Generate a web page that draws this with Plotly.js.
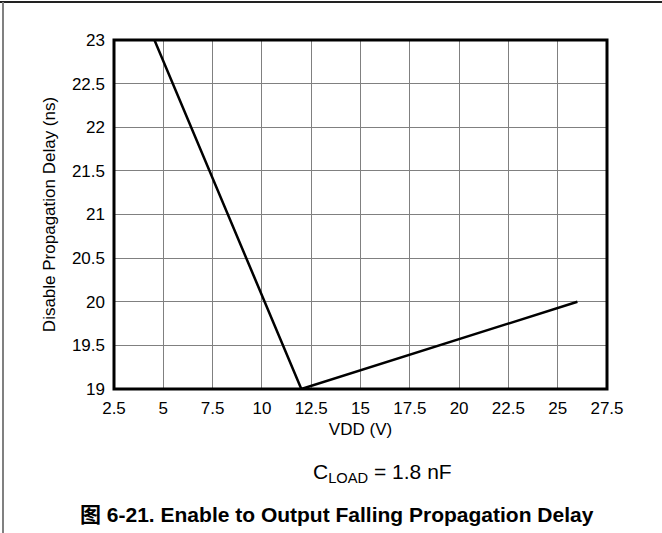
<!DOCTYPE html>
<html>
<head>
<meta charset="utf-8">
<script src="https://cdn.plot.ly/plotly-3.0.1.min.js"></script>
<style>html,body{margin:0;padding:0;background:#fff;}#chart{width:662px;height:533px;}</style>
</head>
<body>
<div id="chart"></div>
<script>
var vdd = [4.55, 12, 26];
var delayNs = [23, 19, 20];
var xTickVals = [2.5, 5, 7.5, 10, 12.5, 15, 17.5, 20, 22.5, 25, 27.5];
var xTickText = ['2.5', '5', '7.5', '10', '12.5', '15', '17.5', '20', '22.5', '25', '27.5'];
var yTickVals = [19, 19.5, 20, 20.5, 21, 21.5, 22, 22.5, 23];
var yTickText = ['19', '19.5', '20', '20.5', '21', '21.5', '22', '22.5', '23'];
var xTitle = 'VDD (V)';
var yTitle = 'Disable Propagation Delay (ns)';
var noteText = 'C<sub>LOAD</sub> = 1.8 nF';
var captionText = '<b>图 6-21. Enable to Output Falling Propagation Delay</b>';

var font = 'Arial, "Liberation Sans", "Noto Sans CJK SC", sans-serif';

var trace = {
  x: vdd, y: delayNs, type: 'scatter', mode: 'lines',
  line: {color: '#000', width: 2.5}, hoverinfo: 'none', cliponaxis: true
};

var layout = {
  width: 662, height: 533,
  margin: {l: 114, r: 55, t: 40, b: 144},
  paper_bgcolor: '#fff', plot_bgcolor: '#fff',
  showlegend: false,
  font: {family: font, size: 17, color: '#000'},
  xaxis: {
    range: [2.5, 27.5], tickvals: xTickVals, ticktext: xTickText,
    showgrid: true, gridcolor: '#808080', gridwidth: 1,
    zeroline: false, showline: false, ticks: '', ticklen: 0, ticklabelstandoff: 7,
    tickfont: {family: font, size: 17, color: '#000'},
    title: {text: xTitle, font: {family: font, size: 17, color: '#000'}, standoff: 6}
  },
  yaxis: {
    range: [19, 23], tickvals: yTickVals, ticktext: yTickText,
    showgrid: true, gridcolor: '#808080', gridwidth: 1,
    zeroline: false, showline: false, ticks: '', ticklen: 0, ticklabelstandoff: 8,
    tickfont: {family: font, size: 17, color: '#000'},
    title: {text: yTitle, font: {family: font, size: 17, color: '#000'}, standoff: 11}
  },
  shapes: [
    {type: 'rect', xref: 'paper', yref: 'paper', x0: 0, x1: 1, y0: 0, y1: 1,
     line: {color: '#000', width: 3}, fillcolor: 'rgba(0,0,0,0)', layer: 'above'},
    {type: 'line', xref: 'paper', yref: 'paper', x0: -114/493, x1: 1 + 55/493,
     y0: 1 + 38/349, y1: 1 + 38/349, line: {color: '#222', width: 2}},
    {type: 'line', xref: 'paper', yref: 'paper', x0: -111/493, x1: -111/493,
     y0: 1 + 38/349, y1: -144/349, line: {color: '#808080', width: 2}}
  ],
  annotations: [
    {text: noteText, xref: 'paper', yref: 'paper', x: (382 - 114) / 493, y: -(473 - 389) / 349,
     xanchor: 'center', yanchor: 'middle', showarrow: false,
     font: {family: font, size: 21, color: '#000'}},
    {text: captionText, xref: 'paper', yref: 'paper', x: (337 - 114) / 493, y: -(514 - 389) / 349,
     xanchor: 'center', yanchor: 'middle', showarrow: false,
     font: {family: font, size: 21, color: '#000'}}
  ]
};

Plotly.newPlot('chart', [trace], layout, {displayModeBar: false, staticPlot: true});
</script>
</body>
</html>
